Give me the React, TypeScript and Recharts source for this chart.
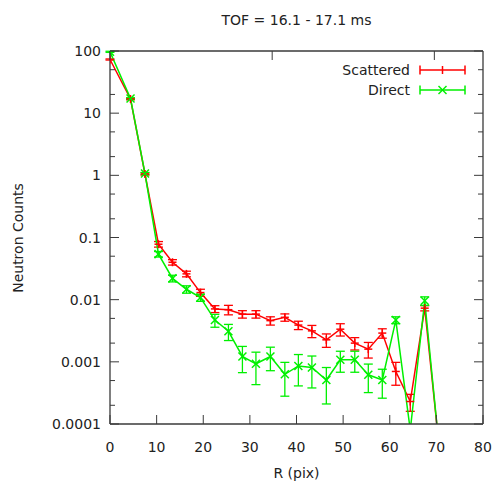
import React from 'react';
import { ComposedChart, Line, XAxis, YAxis, ErrorBar } from 'recharts';

const rValues = [0, 4.4, 7.5, 10.4, 13.4, 16.4, 19.4, 22.5, 25.4, 28.4, 31.3, 34.4, 37.5, 40.4, 43.3, 46.4, 49.4, 52.5, 55.4, 58.4, 61.3, 64.4, 67.5, 70.5];
const scattered = [73, 16.9, 1.05, 0.078, 0.04, 0.026, 0.013, 0.0071, 0.0069, 0.00585, 0.00585, 0.0046, 0.0052, 0.0039, 0.00315, 0.00226, 0.00335, 0.002, 0.0016, 0.0029, 0.0007, 0.00023, 0.0073, 0.00005];
const scatteredErr = [1.5, 0.5, 0.04, 0.008, 0.004, 0.0027, 0.0017, 0.0009, 0.0012, 0.0008, 0.0008, 0.0007, 0.0007, 0.0006, 0.0007, 0.00055, 0.00075, 0.00045, 0.00045, 0.0005, 0.00028, 0.00007, 0.0007, 0];
const direct = [97, 17.2, 1.07, 0.054, 0.022, 0.0147, 0.0108, 0.0047, 0.0031, 0.00122, 0.00093, 0.00122, 0.00063, 0.00086, 0.00081, 0.00051, 0.00108, 0.00108, 0.00062, 0.00051, 0.0047, 0.00008, 0.0096, 0.00005];
const directErr = [2, 0.5, 0.04, 0.0055, 0.0027, 0.002, 0.0014, 0.0011, 0.0009, 0.00055, 0.0005, 0.0005, 0.00035, 0.00045, 0.00043, 0.0003, 0.0004, 0.0004, 0.0003, 0.00025, 0.0006, 0, 0.0015, 0];

const xTicks = [0, 10, 20, 30, 40, 50, 60, 70, 80];
const yMajorTicks = [0.0001, 0.001, 0.01, 0.1, 1, 10, 100];
const yMajorLabels = ['0.0001', '0.001', '0.01', '0.1', '1', '10', '100'];
const yMinorTicks = [0.0002, 0.0005, 0.002, 0.005, 0.02, 0.05, 0.2, 0.5, 2, 5, 20, 50];

const title = 'TOF = 16.1 - 17.1 ms';
const xLabel = 'R (pix)';
const yLabel = 'Neutron Counts';
const seriesNames = ['Scattered', 'Direct'];

const RED = '#ff0000';
const GREEN = '#00f000';
const AXIS = '#3a3a3a';
const FONT = '"DejaVu Sans", Verdana, sans-serif';

const data = rValues.map((r, i) => ({
  r,
  scattered: scattered[i],
  scatteredErr: scatteredErr[i],
  direct: direct[i],
  directErr: directErr[i],
}));

const yTicksAll = [...yMajorTicks, ...yMinorTicks].sort((a, b) => a - b);

const majorIndex = (v: number) => yMajorTicks.findIndex((m) => Math.abs(m - v) / m < 1e-6);

const YTickLeft = (props: any) => {
  const { x, y, payload } = props;
  const idx = majorIndex(payload.value);
  const major = idx >= 0;
  return (
    <g>
      <line x1={x} x2={x + (major ? 9 : 5)} y1={y} y2={y} stroke={AXIS} strokeWidth={1} />
      {major && (
        <text x={x - 9} y={y} dy="0.36em" textAnchor="end" fontFamily={FONT} fontSize={14} fill="#222">
          {yMajorLabels[idx]}
        </text>
      )}
    </g>
  );
};

const YTickRight = (props: any) => {
  const { x, y, payload } = props;
  const major = majorIndex(payload.value) >= 0;
  return <line x1={x} x2={x - (major ? 9 : 5)} y1={y} y2={y} stroke={AXIS} strokeWidth={1} />;
};

const XTickBottom = (props: any) => {
  const { x, y, payload } = props;
  return (
    <g>
      <line x1={x} x2={x} y1={y} y2={y - 9} stroke={AXIS} strokeWidth={1} />
      <text x={x} y={y + 23} dy="0.36em" textAnchor="middle" fontFamily={FONT} fontSize={14} fill="#222">
        {payload.value}
      </text>
    </g>
  );
};

const XTickTop = (props: any) => {
  const { x, y } = props;
  return <line x1={x} x2={x} y1={y} y2={y + 9} stroke={AXIS} strokeWidth={1} />;
};

const PlusDot = (props: any) => {
  const { cx, cy, value } = props;
  if (value == null || value < 0.0001 || cx == null || cy == null) return <g />;
  const s = 4;
  return (
    <g stroke={RED} strokeWidth={1.5}>
      <line x1={cx - s} x2={cx + s} y1={cy} y2={cy} />
      <line x1={cx} x2={cx} y1={cy - s} y2={cy + s} />
    </g>
  );
};

const CrossDot = (props: any) => {
  const { cx, cy, value } = props;
  if (value == null || value < 0.0001 || cx == null || cy == null) return <g />;
  const s = 4;
  return (
    <g stroke={GREEN} strokeWidth={1.5}>
      <line x1={cx - s} x2={cx + s} y1={cy - s} y2={cy + s} />
      <line x1={cx - s} x2={cx + s} y1={cy + s} y2={cy - s} />
    </g>
  );
};

const LegendBox = () => (
  <svg width={120} height={44} style={{ position: 'absolute', left: 350, top: 58, overflow: 'visible' }}>
    {seriesNames.map((name, i) => {
      const y = 12 + i * 20;
      const color = i === 0 ? RED : GREEN;
      const x1 = 70;
      const x2 = 115;
      const xm = (x1 + x2) / 2;
      return (
        <g key={name}>
          <text x={60} y={y} dy="0.36em" textAnchor="end" fontFamily={FONT} fontSize={14} fill="#222">
            {name}
          </text>
          <g stroke={color} strokeWidth={1.5}>
            <line x1={x1} x2={x2} y1={y} y2={y} />
            <line x1={x1} x2={x1} y1={y - 4.5} y2={y + 4.5} />
            <line x1={x2} x2={x2} y1={y - 4.5} y2={y + 4.5} />
            {i === 0 ? (
              <line x1={xm} x2={xm} y1={y - 4} y2={y + 4} />
            ) : (
              <g>
                <line x1={xm - 4} x2={xm + 4} y1={y - 4} y2={y + 4} />
                <line x1={xm - 4} x2={xm + 4} y1={y + 4} y2={y - 4} />
              </g>
            )}
          </g>
        </g>
      );
    })}
  </svg>
);

export default function App() {
  return (
    <div style={{ position: 'absolute', left: 0, top: 0, width: 496, height: 485, background: '#fff', fontFamily: FONT }}>
      <ComposedChart
        width={496}
        height={485}
        data={data}
        margin={{ top: 50, right: 12, bottom: 31, left: 50 }}
      >
        <XAxis
          xAxisId="bottom"
          dataKey="r"
          type="number"
          domain={[0, 80]}
          ticks={xTicks}
          allowDataOverflow
          height={30}
          tickSize={0}
          tickMargin={0}
          tickLine={false}
          tick={<XTickBottom />}
          axisLine={{ stroke: AXIS, strokeWidth: 1.3 }}
          interval={0}
        />
        <XAxis
          xAxisId="top"
          orientation="top"
          type="number"
          domain={[0, 80]}
          ticks={xTicks}
          allowDataOverflow
          height={1}
          tickSize={0}
          tickMargin={0}
          tickLine={false}
          tick={<XTickTop />}
          axisLine={{ stroke: AXIS, strokeWidth: 1.3 }}
          interval={0}
        />
        <YAxis
          yAxisId="left"
          scale="log"
          type="number"
          domain={[0.0001, 100]}
          ticks={yTicksAll}
          allowDataOverflow
          width={60}
          tickSize={0}
          tickMargin={0}
          tickLine={false}
          tick={<YTickLeft />}
          axisLine={{ stroke: AXIS, strokeWidth: 1.3 }}
          interval={0}
        />
        <YAxis
          yAxisId="right"
          orientation="right"
          scale="log"
          type="number"
          domain={[0.0001, 100]}
          ticks={yTicksAll}
          allowDataOverflow
          width={1}
          tickSize={0}
          tickMargin={0}
          tickLine={false}
          tick={<YTickRight />}
          axisLine={{ stroke: AXIS, strokeWidth: 1.3 }}
          interval={0}
        />
        <Line
          xAxisId="bottom"
          yAxisId="left"
          type="linear"
          dataKey="scattered"
          stroke={RED}
          strokeWidth={1.5}
          dot={<PlusDot />}
          activeDot={false}
          isAnimationActive={false}
        >
          <ErrorBar dataKey="scatteredErr" width={4.5} stroke={RED} strokeWidth={1.3} direction="y" isAnimationActive={false} />
        </Line>
        <Line
          xAxisId="bottom"
          yAxisId="left"
          type="linear"
          dataKey="direct"
          stroke={GREEN}
          strokeWidth={1.5}
          dot={<CrossDot />}
          activeDot={false}
          isAnimationActive={false}
        >
          <ErrorBar dataKey="directErr" width={4.5} stroke={GREEN} strokeWidth={1.3} direction="y" isAnimationActive={false} />
        </Line>
      </ComposedChart>
      <div style={{ position: 'absolute', left: 110, width: 373, top: 10, textAlign: 'center', fontSize: 14, color: '#222', lineHeight: '20px' }}>
        {title}
      </div>
      <div style={{ position: 'absolute', left: 110, width: 373, top: 463, textAlign: 'center', fontSize: 14, color: '#222', lineHeight: '20px' }}>
        {xLabel}
      </div>
      <div
        style={{
          position: 'absolute',
          left: 18 - 80,
          top: 238 - 10,
          width: 160,
          textAlign: 'center',
          fontSize: 14,
          color: '#222',
          lineHeight: '20px',
          transform: 'rotate(-90deg)',
        }}
      >
        {yLabel}
      </div>
      <LegendBox />
    </div>
  );
}
